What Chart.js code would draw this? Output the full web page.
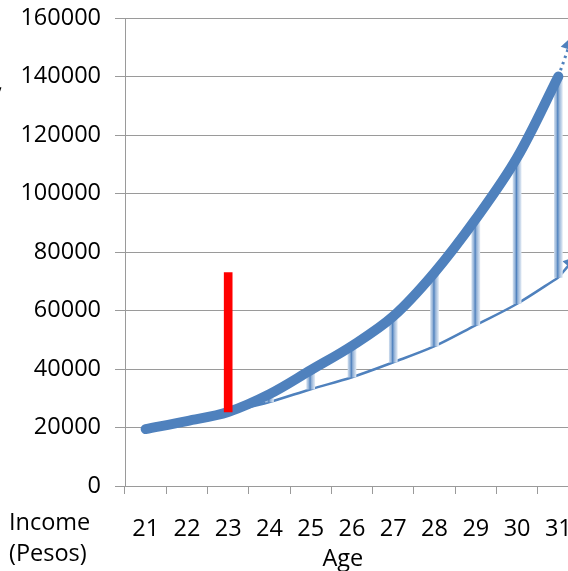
<!DOCTYPE html>
<html>
<head>
<meta charset="utf-8">
<script src="https://cdn.jsdelivr.net/npm/chart.js@4"></script>
<style>
  html, body { margin: 0; padding: 0; background: #fff; overflow: hidden; }
  canvas { display: block; }
</style>
</head>
<body>
<canvas id="incomeChart" width="588" height="571"></canvas>
<script>
// Ages on the category axis
const ages = ['21', '22', '23', '24', '25', '26', '27', '28', '29', '30', '31'];
// Thick curve: income path
const incomeHigh = [19450, 22200, 25300, 31400, 39600, 47900, 58000, 73000, 91300, 112300, 140000];
// Thin curve: lower path starting at 23
const incomeLow = [null, null, 25300, 28700, 33100, 37200, 42300, 47800, 55000, 62300, 71300];
// Red gap bar at age 23
const gapBar = [null, null, [25300, 73000], null, null, null, null, null, null, null, null];
// Ribs between the two curves
const ribs = [null, null, null, [28700, 31000], [33100, 39600], [37200, 47900], [42300, 58000],
  [47800, 73000], [55000, 91300], [62300, 112300], [71300, 140000]];
// Arrow stubs continuing past 31 (x in age units)
const arrowHighX = [31, 31.27];
const arrowHighY = [140000, 150800];
const arrowLowX = [31, 31.3];
const arrowLowY = [71300, 76300];
const yTicks = [0, 20000, 40000, 60000, 80000, 100000, 120000, 140000, 160000];

const BLUE = '#4F81BD';
const GRID = '#9A9A9A';

Chart.defaults.font.family = "'Open Sans', sans-serif";
Chart.defaults.font.size = 23.5;
Chart.defaults.color = '#000';

function ribGradient(ctx) {
  const chart = ctx.chart;
  if (!chart.chartArea || !chart.scales.x) return '#95B3D7';
  const x = chart.scales.x.getPixelForValue(ctx.dataIndex);
  const g = chart.ctx.createLinearGradient(x - 4, 0, x + 4, 0);
  g.addColorStop(0, '#C9D9EC');
  g.addColorStop(0.25, '#95B3D7');
  g.addColorStop(0.42, '#4F81BD');
  g.addColorStop(0.58, '#8EAED5');
  g.addColorStop(0.8, '#B9CDE5');
  g.addColorStop(1, '#DCE6F2');
  return g;
}

const pairs = (xs, ys) => xs.map((x, i) => ({ x: x, y: ys[i] }));

// Side labels that Excel drew outside the axes
const sideText = {
  id: 'sideText',
  afterDraw(chart) {
    const c = chart.ctx;
    c.save();
    c.fillStyle = '#000';
    c.font = "23.5px 'Open Sans', sans-serif";
    c.textAlign = 'left';
    c.textBaseline = 'alphabetic';
    c.fillText('Income', 9, 530);
    c.fillText('(Pesos)', 9, 561);
    c.fillText(',', -3, 90);
    c.restore();
  }
};

new Chart(document.getElementById('incomeChart'), {
  type: 'bar',
  data: {
    labels: ages,
    datasets: [
      {
        label: 'Gap',
        data: gapBar,
        backgroundColor: '#FF0000',
        barThickness: 8,
        grouped: false,
        order: 0
      },
      {
        type: 'line',
        label: 'Income',
        data: incomeHigh,
        borderColor: BLUE,
        borderWidth: 10,
        borderCapStyle: 'round',
        borderJoinStyle: 'round',
        tension: 0.35,
        pointRadius: 0,
        order: 1
      },
      {
        label: 'Ribs',
        data: ribs,
        backgroundColor: ribGradient,
        barThickness: 8,
        grouped: false,
        order: 2
      },
      {
        type: 'line',
        label: 'Lower',
        data: incomeLow,
        borderColor: BLUE,
        borderWidth: 2.5,
        cubicInterpolationMode: 'monotone',
        pointRadius: 0,
        order: 3
      },
      {
        type: 'line',
        label: 'Arrow high',
        xAxisID: 'xl',
        data: pairs(arrowHighX, arrowHighY),
        borderColor: BLUE,
        backgroundColor: BLUE,
        borderWidth: 3,
        borderDash: [2.5, 4],
        pointStyle: 'triangle',
        pointRadius: [0, 6],
        pointRotation: 18,
        order: 4
      },
      {
        type: 'line',
        label: 'Arrow low',
        xAxisID: 'xl',
        data: pairs(arrowLowX, arrowLowY),
        borderColor: BLUE,
        backgroundColor: BLUE,
        borderWidth: 2.5,
        pointStyle: 'triangle',
        pointRadius: [0, 6],
        pointRotation: 41,
        order: 4
      }
    ]
  },
  options: {
    responsive: false,
    animation: false,
    events: [],
    layout: { padding: { top: 18, right: 4, left: 0, bottom: 0 } },
    plugins: {
      legend: { display: false },
      tooltip: { enabled: false }
    },
    scales: {
      x: {
        type: 'category',
        offset: true,
        grid: {
          offset: true,
          drawOnChartArea: false,
          drawTicks: true,
          tickLength: 8,
          tickColor: GRID
        },
        border: { color: GRID, width: 1 },
        ticks: { padding: 21, maxRotation: 0, autoSkip: false },
        title: { display: true, text: 'Age   ', padding: { top: 0, bottom: -2 } },
        afterFit(scale) {
          scale.height = 85;
          scale.paddingLeft = 0;
          scale.paddingRight = 0;
        }
      },
      xl: {
        type: 'linear',
        display: false,
        offset: false,
        min: 20.5,
        max: 31.5
      },
      y: {
        min: 0,
        max: 160000,
        afterBuildTicks(scale) { scale.ticks = yTicks.map(v => ({ value: v })); },
        grid: { color: GRID, tickLength: 10, tickColor: GRID },
        border: { color: GRID, width: 1 },
        ticks: { padding: 14, callback: v => String(v) },
        afterFit(scale) {
          scale.width = 125;
          scale.paddingTop = 0;
          scale.paddingBottom = 0;
        }
      }
    }
  },
  plugins: [sideText]
});
</script>
</body>
</html>
